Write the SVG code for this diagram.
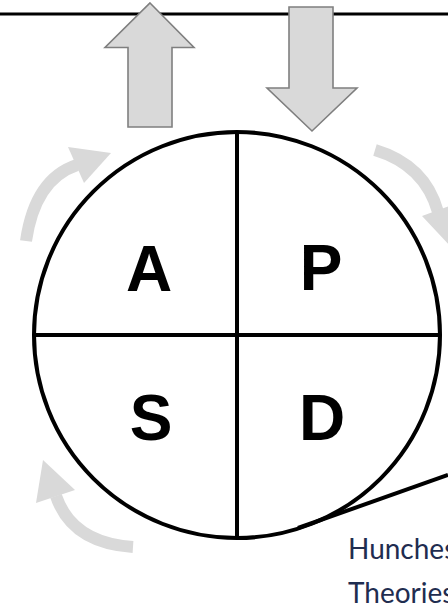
<svg xmlns="http://www.w3.org/2000/svg" width="448" height="611" viewBox="0 0 448 611">
<style>
.blk{fill:none;stroke:#000;stroke-width:4}
.big{fill:#d9d9d9;stroke:#7f7f7f;stroke-width:1.6;stroke-linejoin:miter}
.cyc{fill:none;stroke:#d9d9d9;stroke-width:12;stroke-linecap:butt}
.cyh{fill:#d9d9d9;stroke:none}
.ltr{font-family:"Liberation Sans",Arial,sans-serif;font-weight:bold;font-size:64px;fill:#000;text-anchor:middle}
.note{font-family:Lato,"Open Sans",sans-serif;font-size:28px;fill:#1f2d50}
</style>
<rect width="448" height="611" fill="#fff"/>
<g id="connectors">
<line x1="0" y1="14" x2="448" y2="14" stroke="#000" stroke-width="3"/>
<line x1="298" y1="528" x2="448" y2="475" class="blk"/>
</g>
<g id="arrow-up">
<polygon class="big" points="150,3 194,47.5 172,47.5 172,127 128,127 128,47.5 105,47.5"/>
</g>
<g id="arrow-down">
<polygon class="big" points="289,7 333,7 333,88 357,88 312,131 267,88 289,88"/>
</g>
<g id="cycle-arrows">
<path class="cyc" d="M26,241 Q35,179 77,165"/>
<polygon class="cyh" points="68,147 84,183 111,153"/>
<path class="cyc" d="M375,150 Q425,165 438,212"/>
<polygon class="cyh" points="422,216 458,203 451,247"/>
<path class="cyc" d="M133,547 Q72,543 56,496"/>
<polygon class="cyh" points="36,503 75,490 43,460"/>
</g>
<g id="pdsa-circle">
<circle cx="237" cy="335" r="203" class="blk"/>
<line x1="237" y1="133" x2="237" y2="538" class="blk"/>
<line x1="34" y1="335" x2="440" y2="335" class="blk"/>
</g>
<g id="quadrant-A"><text x="149" y="291" class="ltr">A</text></g>
<g id="quadrant-P"><text x="321" y="290" class="ltr">P</text></g>
<g id="quadrant-S"><text x="151" y="440" class="ltr">S</text></g>
<g id="quadrant-D"><text x="322" y="440" class="ltr">D</text></g>
<g id="notes">
<text x="348" y="559" class="note">Hunches</text>
<text x="348" y="603" class="note">Theories</text>
</g>
</svg>
